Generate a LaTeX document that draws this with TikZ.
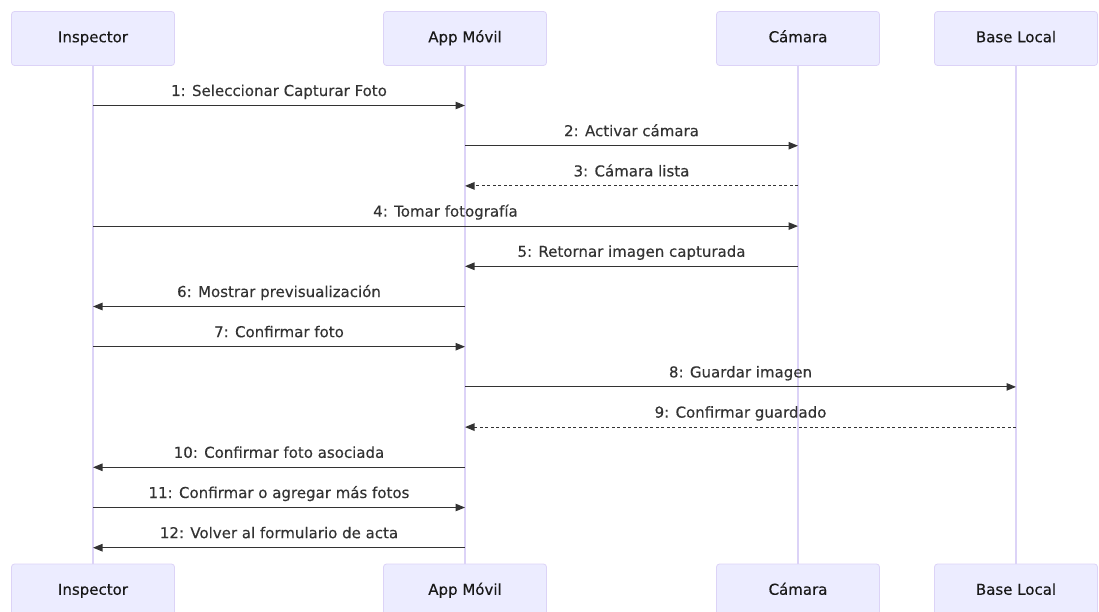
\documentclass[tikz,border=0pt]{standalone}
\usepackage{fontspec}
\setmainfont{DejaVu Sans}
% slightly heavier strokes for the diagram text
\newfontfamily\diagfont{DejaVu Sans}[FakeBold=0.35]
\usetikzlibrary{arrows.meta}
\definecolor{actorfill}{HTML}{ECECFF}
\definecolor{actorline}{HTML}{DCD3F7}
\definecolor{msgcol}{HTML}{333333}
\tikzset{
  x=1pt, y=-1pt,
  actor/.style={draw=actorline, fill=actorfill, rounded corners=3pt, line width=0.8pt,
    minimum width=163pt, minimum height=54pt, inner sep=0pt,
    text height=11pt, text depth=3.5pt,
    font=\diagfont\fontsize{15}{18}\selectfont, text=black!90},
  lifeline/.style={draw=actorline, line width=1.4pt},
  msg/.style={draw=msgcol, line width=1.1pt, -{Triangle[length=9.5pt,width=7.5pt]}},
  reply/.style={msg, dash pattern=on 3pt off 2.5pt},
  msglabel/.style={font=\diagfont\fontsize{15}{18}\selectfont, text=msgcol, anchor=base, inner sep=0pt, yshift=9.5pt}
}
\begin{document}
\begin{tikzpicture}
\useasboundingbox (0,0) rectangle (1099,612);
\clip (0,0) rectangle (1099,612);
% lifeline positions
\coordinate (insp) at (93,0);
\coordinate (app) at (465,0);
\coordinate (cam) at (798,0);
\coordinate (db) at (1016,0);
% lifelines
\foreach \a in {insp,app,cam,db}
  \draw[lifeline] (\a |- 0,60) -- (\a |- 0,570);
% participant boxes, top and bottom
\node[actor] (inspT) at (insp |- 0,38.5) {Inspector};
\node[actor] (appT)  at (app  |- 0,38.5) {App Móvil};
\node[actor] (camT)  at (cam  |- 0,38.5) {Cámara};
\node[actor] (dbT)   at (db   |- 0,38.5) {Base Local};
\node[actor] (inspB) at (insp |- 0,591) {Inspector};
\node[actor] (appB)  at (app  |- 0,591) {App Móvil};
\node[actor] (camB)  at (cam  |- 0,591) {Cámara};
\node[actor] (dbB)   at (db   |- 0,591) {Base Local};
% message rows
\foreach \i/\y in {1/105.5,2/145.7,3/185.9,4/226.1,5/266.3,6/306.5,7/346.7,8/386.9,9/427.1,10/467.3,11/507.5,12/547.7}
  \coordinate (r\i) at (0,\y);
% messages
\draw[msg]   (insp |- r1)  -- node[msglabel] {1: Seleccionar Capturar Foto} (app |- r1);
\draw[msg]   (app |- r2)   -- node[msglabel] {2: Activar cámara} (cam |- r2);
\draw[reply] (cam |- r3)   -- node[msglabel] {3: Cámara lista} (app |- r3);
\draw[msg]   (insp |- r4)  -- node[msglabel] {4: Tomar fotografía} (cam |- r4);
\draw[msg]   (cam |- r5)   -- node[msglabel] {5: Retornar imagen capturada} (app |- r5);
\draw[msg]   (app |- r6)   -- node[msglabel] {6: Mostrar previsualización} (insp |- r6);
\draw[msg]   (insp |- r7)  -- node[msglabel] {7: Confirmar foto} (app |- r7);
\draw[msg]   (app |- r8)   -- node[msglabel] {8: Guardar imagen} (db |- r8);
\draw[reply] (db |- r9)    -- node[msglabel] {9: Confirmar guardado} (app |- r9);
\draw[msg]   (app |- r10)  -- node[msglabel] {10: Confirmar foto asociada} (insp |- r10);
\draw[msg]   (insp |- r11) -- node[msglabel] {11: Confirmar o agregar más fotos} (app |- r11);
\draw[msg]   (app |- r12)  -- node[msglabel] {12: Volver al formulario de acta} (insp |- r12);
\end{tikzpicture}
\end{document}
